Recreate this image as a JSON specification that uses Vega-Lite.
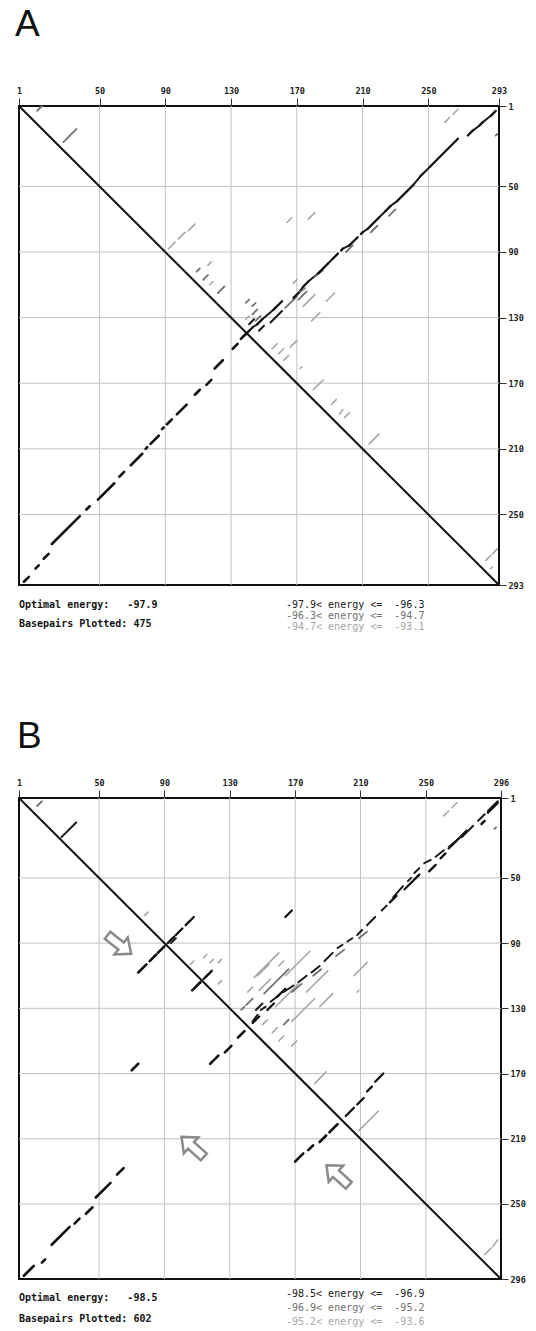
{
"$schema": "https://vega.github.io/schema/vega-lite/v6.json",
"padding": {"left": 14, "top": 4, "right": 0, "bottom": 0},
"background": "white",
"bounds": "flush",
"spacing": 213,
"resolve": {"scale": {"x": "independent", "y": "independent"}},
"config": {
  "view": {"stroke": "#111", "strokeWidth": 2},
  "axis": {"labelFont": "DejaVu Sans Mono", "labelFontWeight": "bold", "labelFontSize": 8.5, "labelColor": "#222", "tickColor": "#333", "tickWidth": 1, "domain": false, "grid": false, "labelFlush": false, "labelOverlap": false}
},
"datasets": {
  "grid": [{"v":50},{"v":90},{"v":130},{"v":170},{"v":210},{"v":250}],
  "diagA": [{"x1":1,"y1":1,"x2":293,"y2":293}],
  "diagB": [{"x1":1,"y1":1,"x2":296,"y2":296}],
  "hA": [
    {"x1":291,"y1":4,"x2":288,"y2":7,"lv":"opt"},
    {"x1":283,"y1":11,"x2":281,"y2":13,"lv":"opt"},
    {"x1":277,"y1":16,"x2":274,"y2":19,"lv":"opt"},
    {"x1":268,"y1":21,"x2":251,"y2":38,"lv":"opt"},
    {"x1":247,"y1":42,"x2":245,"y2":44,"lv":"opt"},
    {"x1":241,"y1":49,"x2":231,"y2":59,"lv":"opt"},
    {"x1":227,"y1":62,"x2":224,"y2":65,"lv":"opt"},
    {"x1":220,"y1":69,"x2":213,"y2":76,"lv":"opt"},
    {"x1":210,"y1":78,"x2":209,"y2":79,"lv":"opt"},
    {"x1":207,"y1":81,"x2":202,"y2":86,"lv":"opt"},
    {"x1":198,"y1":88,"x2":197,"y2":89,"lv":"opt"},
    {"x1":195,"y1":91,"x2":192,"y2":94,"lv":"opt"},
    {"x1":189,"y1":97,"x2":183,"y2":103,"lv":"opt"},
    {"x1":177,"y1":108,"x2":174,"y2":111,"lv":"opt"},
    {"x1":171,"y1":115,"x2":168,"y2":118,"lv":"opt"},
    {"x1":161,"y1":120,"x2":156,"y2":125,"lv":"opt"},
    {"x1":149,"y1":131,"x2":146,"y2":134,"lv":"opt"},
    {"x1":143,"y1":136,"x2":140,"y2":139,"lv":"opt"},
    {"x1":288,"y1":7,"x2":283,"y2":11,"lv":"1"},
    {"x1":281,"y1":13,"x2":277,"y2":16,"lv":"1"},
    {"x1":251,"y1":38,"x2":247,"y2":42,"lv":"1"},
    {"x1":245,"y1":44,"x2":241,"y2":49,"lv":"1"},
    {"x1":231,"y1":59,"x2":227,"y2":62,"lv":"1"},
    {"x1":224,"y1":65,"x2":220,"y2":69,"lv":"1"},
    {"x1":213,"y1":76,"x2":210,"y2":78,"lv":"1"},
    {"x1":202,"y1":86,"x2":198,"y2":88,"lv":"1"},
    {"x1":192,"y1":94,"x2":189,"y2":97,"lv":"1"},
    {"x1":183,"y1":103,"x2":177,"y2":108,"lv":"1"},
    {"x1":174,"y1":111,"x2":171,"y2":115,"lv":"1"},
    {"x1":156,"y1":125,"x2":149,"y2":131,"lv":"1"},
    {"x1":146,"y1":134,"x2":143,"y2":136,"lv":"1"},
    {"x1":12,"y1":4,"x2":15,"y2":1,"lv":"2"},
    {"x1":28,"y1":23,"x2":36,"y2":15,"lv":"2"},
    {"x1":92,"y1":88,"x2":96,"y2":84,"lv":"3"},
    {"x1":98,"y1":82,"x2":102,"y2":78,"lv":"3"},
    {"x1":104,"y1":77,"x2":108,"y2":73,"lv":"3"},
    {"x1":109,"y1":102,"x2":111,"y2":100,"lv":"2"},
    {"x1":113,"y1":107,"x2":116,"y2":104,"lv":"2"},
    {"x1":122,"y1":115,"x2":126,"y2":111,"lv":"2"},
    {"x1":116,"y1":98,"x2":118,"y2":96,"lv":"3"},
    {"x1":117,"y1":110,"x2":119,"y2":108,"lv":"3"},
    {"x1":260,"y1":11,"x2":263,"y2":8,"lv":"3"},
    {"x1":265,"y1":6,"x2":268,"y2":3,"lv":"3"},
    {"x1":291,"y1":19,"x2":292,"y2":18,"lv":"2"},
    {"x1":164,"y1":72,"x2":167,"y2":69,"lv":"3"},
    {"x1":177,"y1":70,"x2":181,"y2":66,"lv":"3"},
    {"x1":174,"y1":123,"x2":181,"y2":116,"lv":"3"},
    {"x1":179,"y1":132,"x2":184,"y2":127,"lv":"3"},
    {"x1":188,"y1":120,"x2":193,"y2":115,"lv":"3"},
    {"x1":154,"y1":133,"x2":161,"y2":126,"lv":"1"},
    {"x1":163,"y1":124,"x2":170,"y2":117,"lv":"2"},
    {"x1":171,"y1":119,"x2":176,"y2":114,"lv":"2"},
    {"x1":141,"y1":134,"x2":144,"y2":131,"lv":"1"},
    {"x1":147,"y1":138,"x2":150,"y2":135,"lv":"1"},
    {"x1":145,"y1":132,"x2":148,"y2":129,"lv":"2"},
    {"x1":143,"y1":128,"x2":146,"y2":125,"lv":"2"},
    {"x1":139,"y1":121,"x2":141,"y2":119,"lv":"2"},
    {"x1":143,"y1":123,"x2":145,"y2":121,"lv":"2"},
    {"x1":139,"y1":131,"x2":141,"y2":129,"lv":"3"},
    {"x1":155,"y1":149,"x2":158,"y2":146,"lv":"3"},
    {"x1":159,"y1":152,"x2":162,"y2":149,"lv":"3"},
    {"x1":166,"y1":148,"x2":170,"y2":144,"lv":"3"},
    {"x1":162,"y1":156,"x2":165,"y2":153,"lv":"3"},
    {"x1":172,"y1":161,"x2":173,"y2":160,"lv":"3"},
    {"x1":180,"y1":174,"x2":186,"y2":168,"lv":"3"},
    {"x1":191,"y1":183,"x2":194,"y2":180,"lv":"3"},
    {"x1":196,"y1":189,"x2":198,"y2":186,"lv":"3"},
    {"x1":199,"y1":191,"x2":202,"y2":188,"lv":"3"},
    {"x1":214,"y1":207,"x2":220,"y2":201,"lv":"3"},
    {"x1":285,"y1":278,"x2":288,"y2":275,"lv":"3"},
    {"x1":289,"y1":274,"x2":292,"y2":271,"lv":"3"},
    {"x1":288,"y1":283,"x2":289,"y2":282,"lv":"3"},
    {"x1":168,"y1":109,"x2":170,"y2":107,"lv":"3"},
    {"x1":230,"y1":64,"x2":226,"y2":68,"lv":"2"},
    {"x1":219,"y1":74,"x2":215,"y2":78,"lv":"2"},
    {"x1":204,"y1":86,"x2":200,"y2":90,"lv":"2"},
    {"x1":186,"y1":101,"x2":181,"y2":105,"lv":"2"},
    {"x1":175,"y1":112,"x2":170,"y2":116,"lv":"2"}
  ],
  "hB": [
    {"x1":294,"y1":4,"x2":288,"y2":10,"lv":"opt"},
    {"x1":286,"y1":15,"x2":284,"y2":17,"lv":"opt"},
    {"x1":275,"y1":21,"x2":264,"y2":32,"lv":"opt"},
    {"x1":262,"y1":35,"x2":259,"y2":38,"lv":"opt"},
    {"x1":256,"y1":42,"x2":252,"y2":46,"lv":"opt"},
    {"x1":246,"y1":48,"x2":237,"y2":57,"lv":"opt"},
    {"x1":232,"y1":61,"x2":228,"y2":65,"lv":"opt"},
    {"x1":164,"y1":118,"x2":159,"y2":123,"lv":"opt"},
    {"x1":157,"y1":127,"x2":153,"y2":131,"lv":"opt"},
    {"x1":148,"y1":135,"x2":144,"y2":139,"lv":"opt"},
    {"x1":108,"y1":74,"x2":103,"y2":79,"lv":"opt"},
    {"x1":101,"y1":81,"x2":97,"y2":85,"lv":"opt"},
    {"x1":96,"y1":86,"x2":92,"y2":90,"lv":"opt"},
    {"x1":119,"y1":107,"x2":114,"y2":112,"lv":"opt"},
    {"x1":168,"y1":70,"x2":164,"y2":74,"lv":"opt"},
    {"x1":224,"y1":170,"x2":219,"y2":175,"lv":"opt"},
    {"x1":217,"y1":178,"x2":214,"y2":181,"lv":"opt"},
    {"x1":212,"y1":185,"x2":208,"y2":189,"lv":"opt"},
    {"x1":206,"y1":191,"x2":201,"y2":196,"lv":"opt"},
    {"x1":294,"y1":3,"x2":288,"y2":9,"lv":"1"},
    {"x1":286,"y1":11,"x2":282,"y2":15,"lv":"1"},
    {"x1":279,"y1":18,"x2":272,"y2":25,"lv":"1"},
    {"x1":269,"y1":27,"x2":264,"y2":31,"lv":"1"},
    {"x1":261,"y1":33,"x2":256,"y2":37,"lv":"1"},
    {"x1":253,"y1":39,"x2":249,"y2":41,"lv":"1"},
    {"x1":246,"y1":44,"x2":243,"y2":47,"lv":"1"},
    {"x1":241,"y1":50,"x2":239,"y2":52,"lv":"1"},
    {"x1":236,"y1":55,"x2":230,"y2":62,"lv":"1"},
    {"x1":226,"y1":67,"x2":223,"y2":70,"lv":"1"},
    {"x1":219,"y1":74,"x2":214,"y2":79,"lv":"1"},
    {"x1":211,"y1":82,"x2":208,"y2":85,"lv":"1"},
    {"x1":205,"y1":87,"x2":202,"y2":89,"lv":"1"},
    {"x1":199,"y1":91,"x2":196,"y2":93,"lv":"1"},
    {"x1":193,"y1":96,"x2":188,"y2":101,"lv":"1"},
    {"x1":185,"y1":104,"x2":180,"y2":108,"lv":"1"},
    {"x1":177,"y1":110,"x2":172,"y2":114,"lv":"1"},
    {"x1":169,"y1":116,"x2":163,"y2":120,"lv":"1"},
    {"x1":160,"y1":122,"x2":155,"y2":126,"lv":"1"},
    {"x1":152,"y1":129,"x2":149,"y2":131,"lv":"1"},
    {"x1":147,"y1":134,"x2":144,"y2":138,"lv":"1"},
    {"x1":12,"y1":6,"x2":15,"y2":3,"lv":"2"},
    {"x1":27,"y1":25,"x2":36,"y2":16,"lv":"1"},
    {"x1":78,"y1":73,"x2":80,"y2":71,"lv":"3"},
    {"x1":106,"y1":103,"x2":108,"y2":101,"lv":"3"},
    {"x1":114,"y1":99,"x2":116,"y2":97,"lv":"3"},
    {"x1":118,"y1":102,"x2":120,"y2":100,"lv":"3"},
    {"x1":123,"y1":102,"x2":125,"y2":100,"lv":"3"},
    {"x1":123,"y1":115,"x2":125,"y2":113,"lv":"3"},
    {"x1":94,"y1":90,"x2":97,"y2":87,"lv":"1"},
    {"x1":115,"y1":111,"x2":117,"y2":109,"lv":"1"},
    {"x1":261,"y1":12,"x2":264,"y2":9,"lv":"3"},
    {"x1":266,"y1":7,"x2":269,"y2":4,"lv":"3"},
    {"x1":292,"y1":20,"x2":293,"y2":19,"lv":"2"},
    {"x1":164,"y1":110,"x2":179,"y2":95,"lv":"3"},
    {"x1":177,"y1":120,"x2":190,"y2":107,"lv":"3"},
    {"x1":185,"y1":129,"x2":193,"y2":121,"lv":"3"},
    {"x1":206,"y1":110,"x2":214,"y2":102,"lv":"3"},
    {"x1":208,"y1":120,"x2":209,"y2":119,"lv":"3"},
    {"x1":153,"y1":114,"x2":155,"y2":112,"lv":"3"},
    {"x1":160,"y1":104,"x2":163,"y2":101,"lv":"3"},
    {"x1":145,"y1":111,"x2":160,"y2":96,"lv":"3"},
    {"x1":151,"y1":121,"x2":166,"y2":106,"lv":"2"},
    {"x1":158,"y1":129,"x2":172,"y2":115,"lv":"3"},
    {"x1":168,"y1":138,"x2":182,"y2":124,"lv":"3"},
    {"x1":209,"y1":205,"x2":221,"y2":193,"lv":"3"},
    {"x1":182,"y1":176,"x2":189,"y2":169,"lv":"3"},
    {"x1":286,"y1":281,"x2":290,"y2":277,"lv":"3"},
    {"x1":291,"y1":276,"x2":294,"y2":272,"lv":"3"},
    {"x1":150,"y1":140,"x2":153,"y2":137,"lv":"3"},
    {"x1":156,"y1":145,"x2":159,"y2":142,"lv":"3"},
    {"x1":160,"y1":150,"x2":163,"y2":147,"lv":"3"},
    {"x1":168,"y1":153,"x2":171,"y2":150,"lv":"3"},
    {"x1":163,"y1":140,"x2":166,"y2":137,"lv":"2"},
    {"x1":140,"y1":128,"x2":144,"y2":124,"lv":"2"},
    {"x1":146,"y1":131,"x2":150,"y2":127,"lv":"1"},
    {"x1":148,"y1":119,"x2":153,"y2":114,"lv":"3"},
    {"x1":141,"y1":120,"x2":144,"y2":117,"lv":"3"},
    {"x1":147,"y1":110,"x2":154,"y2":103,"lv":"3"},
    {"x1":137,"y1":131,"x2":139,"y2":129,"lv":"2"},
    {"x1":214,"y1":83,"x2":209,"y2":87,"lv":"2"},
    {"x1":200,"y1":94,"x2":195,"y2":98,"lv":"2"},
    {"x1":186,"y1":106,"x2":181,"y2":110,"lv":"2"},
    {"x1":174,"y1":115,"x2":168,"y2":120,"lv":"2"}
  ],
  "tA": [
    {"k":"big","x":-1.4,"y":-48.6,"t":"A"},
    {"k":"info","x":1,"y":305.3,"t":"Optimal energy:\u00a0\u00a0\u00a0-97.9"},
    {"k":"info","x":1,"y":316.5,"t":"Basepairs Plotted: 475"},
    {"k":"leg","lv":"1","x":163.4,"y":305.3,"t":"-97.9< energy <=\u00a0\u00a0-96.3"},
    {"k":"leg","lv":"2","x":163.4,"y":311.8,"t":"-96.3< energy <=\u00a0\u00a0-94.7"},
    {"k":"leg","lv":"3","x":163.4,"y":318.5,"t":"-94.7< energy <=\u00a0\u00a0-93.1"}
  ],
  "tB": [
    {"k":"big","x":-0.2,"y":-36.6,"t":"B"},
    {"k":"info","x":1,"y":307.9,"t":"Optimal energy:\u00a0\u00a0\u00a0-98.5"},
    {"k":"info","x":1,"y":320.4,"t":"Basepairs Plotted: 602"},
    {"k":"leg","lv":"1","x":164.4,"y":305.4,"t":"-98.5< energy <=\u00a0\u00a0-96.9"},
    {"k":"leg","lv":"2","x":164.4,"y":313.6,"t":"-96.9< energy <=\u00a0\u00a0-95.2"},
    {"k":"leg","lv":"3","x":164.4,"y":322.5,"t":"-95.2< energy <=\u00a0\u00a0-93.6"}
  ],
  "arrB": [
    {"dir":"r","x":62.4,"y":90.9},
    {"dir":"ul","x":107.3,"y":215},
    {"dir":"ul","x":196,"y":232.4}
  ]
},
"vconcat": [
 {
  "width": 480, "height": 479,
  "layer": [
   {"data": {"name": "grid"}, "mark": {"type": "rule", "color": "#c2c2c2", "strokeWidth": 1},
    "encoding": {"x": {"field": "v", "type": "quantitative", "title": null, "scale": {"domain": [1, 293]}, "axis": {"orient": "top", "values": [1,50,90,130,170,210,250,293], "title": null, "tickSize": 8, "labelPadding": 3}}}},
   {"data": {"name": "grid"}, "mark": {"type": "rule", "color": "#c2c2c2", "strokeWidth": 1},
    "encoding": {"y": {"field": "v", "type": "quantitative", "title": null, "scale": {"domain": [1, 293], "reverse": true}, "axis": {"orient": "right", "values": [1,50,90,130,170,210,250,293], "title": null, "tickSize": 7, "labelPadding": 2}}}},
   {"data": {"name": "diagA"}, "mark": {"type": "rule", "color": "#111", "strokeWidth": 2},
    "encoding": {"x": {"field": "x1", "type": "quantitative", "title": null, "scale": {"domain": [1, 293]}}, "y": {"field": "y1", "type": "quantitative", "title": null, "scale": {"domain": [1, 293], "reverse": true}}, "x2": {"field": "x2"}, "y2": {"field": "y2"}}},
   {"data": {"name": "hA"}, "transform": [{"filter": "datum.lv != 'opt'"}], "mark": {"type": "rule", "strokeCap": "round"},
    "encoding": {"x": {"field": "x1", "type": "quantitative", "title": null, "scale": {"domain": [1, 293]}}, "y": {"field": "y1", "type": "quantitative", "title": null, "scale": {"domain": [1, 293], "reverse": true}}, "x2": {"field": "x2"}, "y2": {"field": "y2"},
     "color": {"field": "lv", "type": "nominal", "scale": {"domain": ["1","2","3"], "range": ["#1a1a1a","#707070","#a6a6a6"]}, "legend": null},
     "strokeWidth": {"field": "lv", "type": "nominal", "scale": {"domain": ["1","2","3"], "range": [2, 1.6, 1.4]}, "legend": null}}},
   {"data": {"name": "hA"}, "transform": [{"filter": "datum.lv == 'opt'"}], "mark": {"type": "rule", "strokeCap": "round", "color": "#111", "strokeWidth": 2.3},
    "encoding": {"x": {"field": "x1", "type": "quantitative", "title": null, "scale": {"domain": [1, 293]}}, "y": {"field": "y1", "type": "quantitative", "title": null, "scale": {"domain": [1, 293], "reverse": true}}, "x2": {"field": "x2"}, "y2": {"field": "y2"}}},
   {"data": {"name": "hA"}, "transform": [{"filter": "datum.lv == 'opt'"}], "mark": {"type": "rule", "strokeCap": "round", "color": "#111", "strokeWidth": 2.6},
    "encoding": {"x": {"field": "y1", "type": "quantitative", "title": null, "scale": {"domain": [1, 293]}}, "y": {"field": "x1", "type": "quantitative", "title": null, "scale": {"domain": [1, 293], "reverse": true}}, "x2": {"field": "y2"}, "y2": {"field": "x2"}}},
   {"data": {"name": "tA"}, "transform": [{"filter": "datum.k == 'big'"}], "mark": {"type": "text", "font": "Liberation Sans", "fontSize": 37, "align": "left", "baseline": "middle", "color": "#111"},
    "encoding": {"x": {"field": "x", "type": "quantitative", "title": null, "scale": {"domain": [1, 293]}}, "y": {"field": "y", "type": "quantitative", "title": null, "scale": {"domain": [1, 293], "reverse": true}}, "text": {"field": "t"}}},
   {"data": {"name": "tA"}, "transform": [{"filter": "datum.k == 'info'"}], "mark": {"type": "text", "font": "DejaVu Sans Mono", "fontWeight": "bold", "fontSize": 10, "align": "left", "baseline": "middle", "color": "#151515"},
    "encoding": {"x": {"field": "x", "type": "quantitative", "title": null, "scale": {"domain": [1, 293]}}, "y": {"field": "y", "type": "quantitative", "title": null, "scale": {"domain": [1, 293], "reverse": true}}, "text": {"field": "t"}}},
   {"data": {"name": "tA"}, "transform": [{"filter": "datum.k == 'leg'"}], "mark": {"type": "text", "font": "DejaVu Sans Mono", "fontSize": 10, "align": "left", "baseline": "middle"},
    "encoding": {"x": {"field": "x", "type": "quantitative", "title": null, "scale": {"domain": [1, 293]}}, "y": {"field": "y", "type": "quantitative", "title": null, "scale": {"domain": [1, 293], "reverse": true}}, "text": {"field": "t"},
     "color": {"field": "lv", "type": "nominal", "scale": {"domain": ["1","2","3"], "range": ["#1a1a1a","#707070","#a6a6a6"]}, "legend": null}}}
  ]
 },
 {
  "width": 482, "height": 481,
  "layer": [
   {"data": {"name": "grid"}, "mark": {"type": "rule", "color": "#c2c2c2", "strokeWidth": 1},
    "encoding": {"x": {"field": "v", "type": "quantitative", "title": null, "scale": {"domain": [1, 296]}, "axis": {"orient": "top", "values": [1,50,90,130,170,210,250,296], "title": null, "tickSize": 8, "labelPadding": 3}}}},
   {"data": {"name": "grid"}, "mark": {"type": "rule", "color": "#c2c2c2", "strokeWidth": 1},
    "encoding": {"y": {"field": "v", "type": "quantitative", "title": null, "scale": {"domain": [1, 296], "reverse": true}, "axis": {"orient": "right", "values": [1,50,90,130,170,210,250,296], "title": null, "tickSize": 7, "labelPadding": 2}}}},
   {"data": {"name": "diagB"}, "mark": {"type": "rule", "color": "#111", "strokeWidth": 2},
    "encoding": {"x": {"field": "x1", "type": "quantitative", "title": null, "scale": {"domain": [1, 296]}}, "y": {"field": "y1", "type": "quantitative", "title": null, "scale": {"domain": [1, 296], "reverse": true}}, "x2": {"field": "x2"}, "y2": {"field": "y2"}}},
   {"data": {"name": "hB"}, "transform": [{"filter": "datum.lv != 'opt'"}], "mark": {"type": "rule", "strokeCap": "round"},
    "encoding": {"x": {"field": "x1", "type": "quantitative", "title": null, "scale": {"domain": [1, 296]}}, "y": {"field": "y1", "type": "quantitative", "title": null, "scale": {"domain": [1, 296], "reverse": true}}, "x2": {"field": "x2"}, "y2": {"field": "y2"},
     "color": {"field": "lv", "type": "nominal", "scale": {"domain": ["1","2","3"], "range": ["#1a1a1a","#707070","#a6a6a6"]}, "legend": null},
     "strokeWidth": {"field": "lv", "type": "nominal", "scale": {"domain": ["1","2","3"], "range": [2, 1.6, 1.4]}, "legend": null}}},
   {"data": {"name": "hB"}, "transform": [{"filter": "datum.lv == 'opt'"}], "mark": {"type": "rule", "strokeCap": "round", "color": "#111", "strokeWidth": 2.3},
    "encoding": {"x": {"field": "x1", "type": "quantitative", "title": null, "scale": {"domain": [1, 296]}}, "y": {"field": "y1", "type": "quantitative", "title": null, "scale": {"domain": [1, 296], "reverse": true}}, "x2": {"field": "x2"}, "y2": {"field": "y2"}}},
   {"data": {"name": "hB"}, "transform": [{"filter": "datum.lv == 'opt'"}], "mark": {"type": "rule", "strokeCap": "round", "color": "#111", "strokeWidth": 2.6},
    "encoding": {"x": {"field": "y1", "type": "quantitative", "title": null, "scale": {"domain": [1, 296]}}, "y": {"field": "x1", "type": "quantitative", "title": null, "scale": {"domain": [1, 296], "reverse": true}}, "x2": {"field": "y2"}, "y2": {"field": "x2"}}},
   {"data": {"name": "arrB"}, "transform": [{"filter": "datum.dir == 'r'"}], "mark": {"type": "point", "shape": "M-1,-0.3L0.15,-0.3L0.15,-0.72L1,0L0.15,0.72L0.15,0.3L-1,0.3Z", "size": 900, "angle": 38, "filled": false, "fill": "white", "fillOpacity": 1, "stroke": "#8a8a8a", "strokeWidth": 2.5, "opacity": 1},
    "encoding": {"x": {"field": "x", "type": "quantitative", "title": null, "scale": {"domain": [1, 296]}}, "y": {"field": "y", "type": "quantitative", "title": null, "scale": {"domain": [1, 296], "reverse": true}}}},
   {"data": {"name": "arrB"}, "transform": [{"filter": "datum.dir == 'ul'"}], "mark": {"type": "point", "shape": "M-1,-0.3L0.15,-0.3L0.15,-0.72L1,0L0.15,0.72L0.15,0.3L-1,0.3Z", "size": 900, "angle": 222, "filled": false, "fill": "white", "fillOpacity": 1, "stroke": "#8a8a8a", "strokeWidth": 2.5, "opacity": 1},
    "encoding": {"x": {"field": "x", "type": "quantitative", "title": null, "scale": {"domain": [1, 296]}}, "y": {"field": "y", "type": "quantitative", "title": null, "scale": {"domain": [1, 296], "reverse": true}}}},
   {"data": {"name": "tB"}, "transform": [{"filter": "datum.k == 'big'"}], "mark": {"type": "text", "font": "Liberation Sans", "fontSize": 37, "align": "left", "baseline": "middle", "color": "#111"},
    "encoding": {"x": {"field": "x", "type": "quantitative", "title": null, "scale": {"domain": [1, 296]}}, "y": {"field": "y", "type": "quantitative", "title": null, "scale": {"domain": [1, 296], "reverse": true}}, "text": {"field": "t"}}},
   {"data": {"name": "tB"}, "transform": [{"filter": "datum.k == 'info'"}], "mark": {"type": "text", "font": "DejaVu Sans Mono", "fontWeight": "bold", "fontSize": 10, "align": "left", "baseline": "middle", "color": "#151515"},
    "encoding": {"x": {"field": "x", "type": "quantitative", "title": null, "scale": {"domain": [1, 296]}}, "y": {"field": "y", "type": "quantitative", "title": null, "scale": {"domain": [1, 296], "reverse": true}}, "text": {"field": "t"}}},
   {"data": {"name": "tB"}, "transform": [{"filter": "datum.k == 'leg'"}], "mark": {"type": "text", "font": "DejaVu Sans Mono", "fontSize": 10, "align": "left", "baseline": "middle"},
    "encoding": {"x": {"field": "x", "type": "quantitative", "title": null, "scale": {"domain": [1, 296]}}, "y": {"field": "y", "type": "quantitative", "title": null, "scale": {"domain": [1, 296], "reverse": true}}, "text": {"field": "t"},
     "color": {"field": "lv", "type": "nominal", "scale": {"domain": ["1","2","3"], "range": ["#1a1a1a","#707070","#a6a6a6"]}, "legend": null}}}
  ]
 }
]
}
